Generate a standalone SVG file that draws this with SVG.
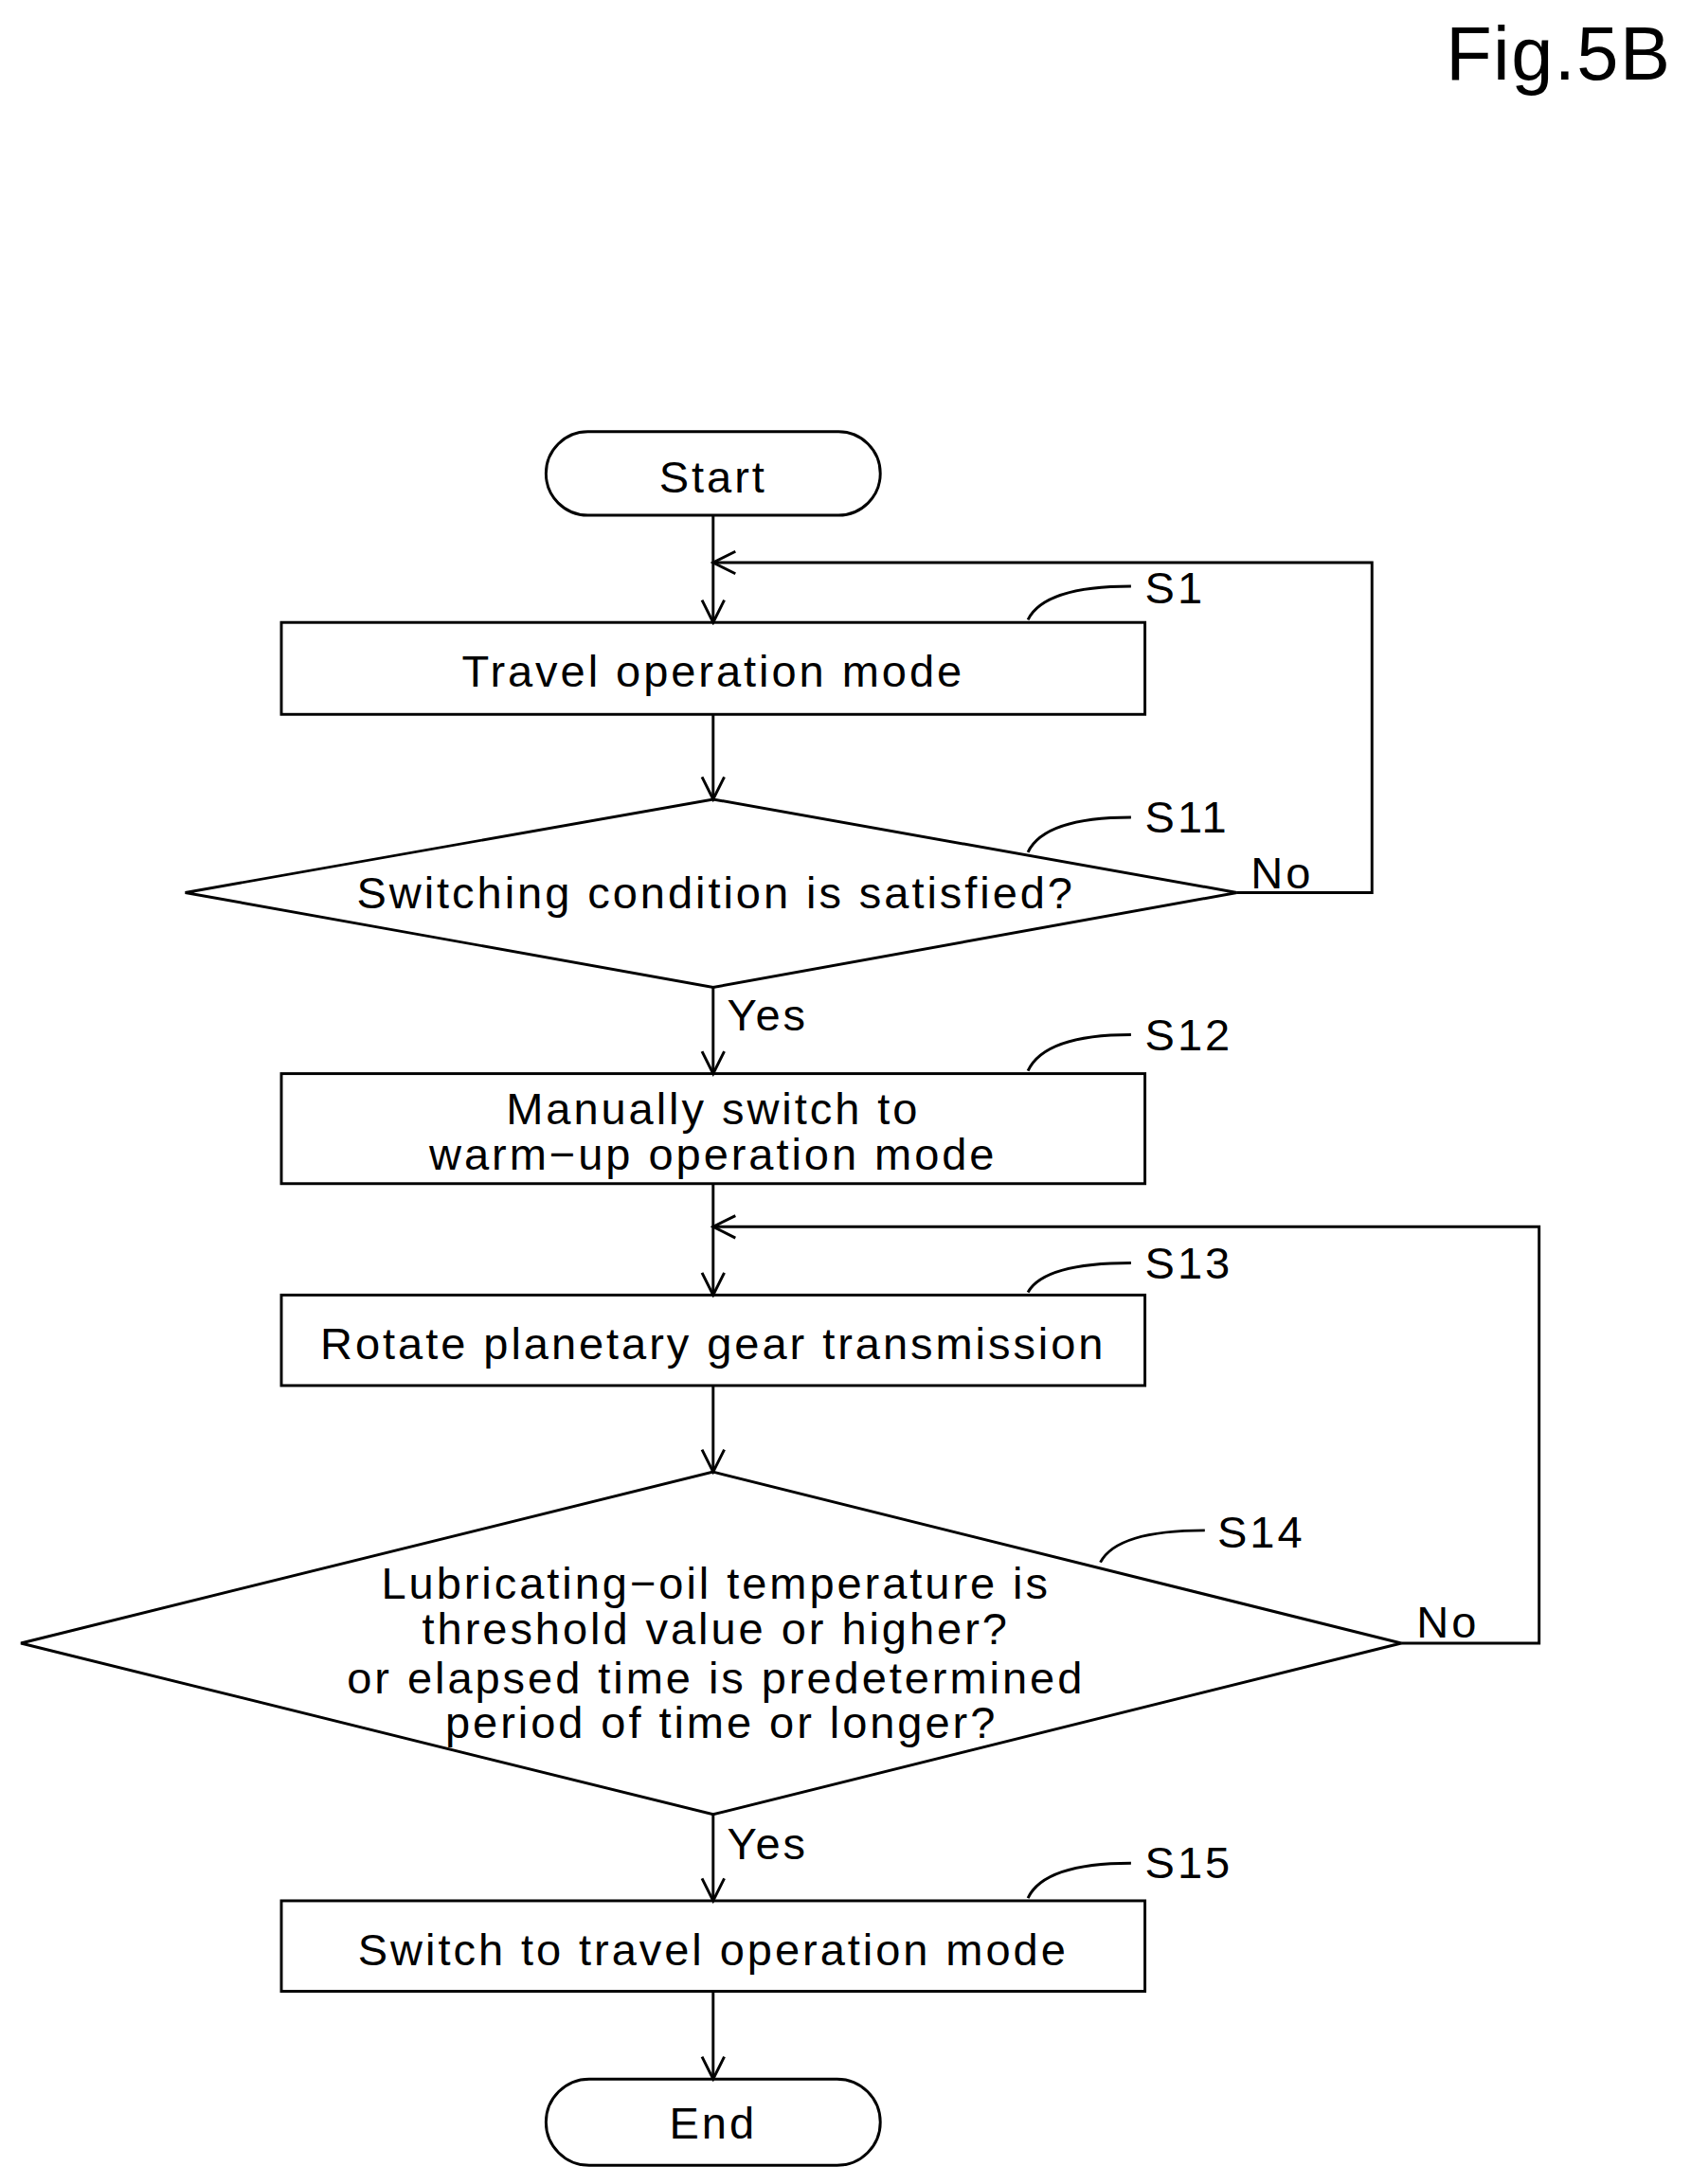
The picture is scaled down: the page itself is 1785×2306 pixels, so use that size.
<svg xmlns="http://www.w3.org/2000/svg" width="1785" height="2306" viewBox="0 0 1785 2306">
<style>
.s{fill:none;stroke:#000;stroke-width:2}
text{font-family:"Liberation Sans",Arial,sans-serif;font-size:32px;letter-spacing:2px;fill:#000}
.c{text-anchor:middle}
</style>
<defs><marker id="a" markerWidth="20" markerHeight="20" refX="18" refY="10" orient="auto" markerUnits="userSpaceOnUse"><path d="M2,2 L18,10 L2,18" fill="none" stroke="#000" stroke-width="2"/></marker></defs>
<rect width="1785" height="2306" fill="#fff"/>
<g transform="scale(1.4703)">
<text x="1200" y="57" style="font-size:54px;letter-spacing:1px" text-anchor="end">Fig.5B</text>
<g id="connectors" class="s">
<path d="M512,370 V447" marker-end="url(#a)"/>
<path d="M512,513 V574" marker-end="url(#a)"/>
<path d="M888,641 H985 V404 H512" marker-end="url(#a)"/>
<path d="M512,709 V771" marker-end="url(#a)"/>
<path d="M512,850 V930" marker-end="url(#a)"/>
<path d="M1006,1180 H1105 V881 H512" marker-end="url(#a)"/>
<path d="M512,995 V1057" marker-end="url(#a)"/>
<path d="M512,1303 V1365" marker-end="url(#a)"/>
<path d="M512,1430 V1493" marker-end="url(#a)"/>
</g>
<g id="start"><rect class="s" x="392" y="310" width="240" height="60" rx="30"/><text class="c" x="512" y="354">Start</text></g>
<g id="s1"><rect class="s" x="202" y="447" width="620" height="66"/><text class="c" x="512" y="493">Travel operation mode</text>
<path class="s" d="M738,445 Q750,421 812,421"/><text x="822" y="433">S1</text></g>
<g id="s11"><path class="s" d="M512,574 L888,641 L512,709 L133,641 Z"/><text class="c" x="514" y="652">Switching condition is satisfied?</text>
<path class="s" d="M738,612 Q750,587 812,587"/><text x="822" y="598">S11</text>
<text x="898" y="638">No</text><text x="522" y="740">Yes</text></g>
<g id="s12"><rect class="s" x="202" y="771" width="620" height="79"/><text class="c" x="512" y="807">Manually switch to</text><text class="c" x="512" y="840">warm−up operation mode</text>
<path class="s" d="M738,769 Q750,743 812,743"/><text x="822" y="754">S12</text></g>
<g id="s13"><rect class="s" x="202" y="930" width="620" height="65"/><text class="c" x="512" y="976">Rotate planetary gear transmission</text>
<path class="s" d="M738,928 Q750,907 812,907"/><text x="822" y="918">S13</text></g>
<g id="s14"><path class="s" d="M512,1057 L1006,1180 L512,1303 L15,1180 Z"/>
<text class="c" x="514" y="1148">Lubricating−oil temperature is</text>
<text class="c" x="514" y="1181">threshold value or higher?</text>
<text class="c" x="514" y="1216">or elapsed time is predetermined</text>
<text class="c" x="518" y="1248">period of time or longer?</text>
<path class="s" d="M790,1122 Q802,1099 865,1099"/><text x="874" y="1111">S14</text>
<text x="1017" y="1176">No</text><text x="522" y="1335">Yes</text></g>
<g id="s15"><rect class="s" x="202" y="1365" width="620" height="65"/><text class="c" x="512" y="1411">Switch to travel operation mode</text>
<path class="s" d="M738,1363 Q750,1338 812,1338"/><text x="822" y="1349">S15</text></g>
<g id="end"><rect class="s" x="392" y="1493" width="240" height="62" rx="31"/><text class="c" x="512" y="1536">End</text></g>
</g>
</svg>
